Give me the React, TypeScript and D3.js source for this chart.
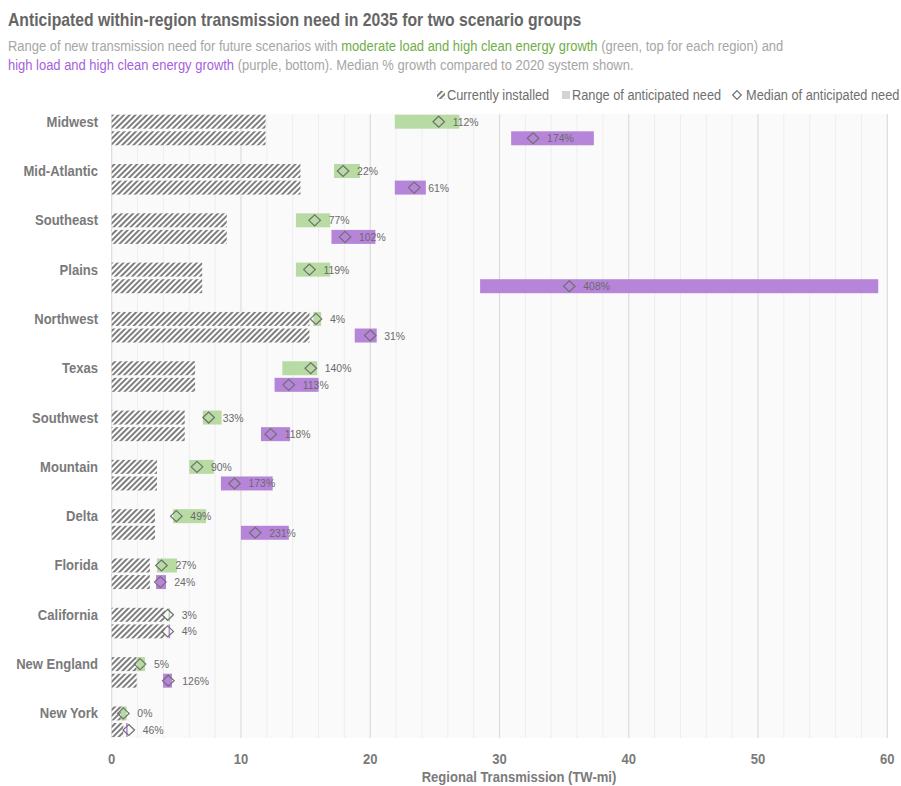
import React from "react";
import * as d3 from "d3";

const regions = ["Midwest","Mid-Atlantic","Southeast","Plains","Northwest","Texas","Southwest","Mountain","Delta","Florida","California","New England","New York"];
const installed = [11.9, 14.6, 8.9, 7.0, 15.3, 6.45, 5.65, 3.5, 3.35, 2.95, 4.1, 1.93, 0.9];
const modLow = [21.9, 17.2, 14.25, 14.25, 15.6, 13.2, 7.05, 6.0, 4.75, 3.5, 4.4, 1.93, 0.7];
const modHigh = [26.9, 19.2, 16.9, 16.9, 16.2, 15.9, 8.5, 7.9, 7.3, 5.05, 4.48, 2.58, 1.16];
const modMed = [25.3, 17.9, 15.7, 15.3, 15.8, 15.4, 7.5, 6.6, 5.0, 3.85, 4.33, 2.19, 0.9];
const modPct = ["112%","22%","77%","119%","4%","140%","33%","90%","49%","27%","3%","5%","0%"];
const highLow = [30.9, 21.9, 17.0, 28.5, 18.8, 12.6, 11.55, 8.45, 10.0, 3.43, 4.4, 3.97, 1.12];
const highHigh = [37.3, 24.3, 20.4, 59.3, 20.5, 16.0, 13.8, 12.45, 13.7, 4.2, 4.48, 4.66, 1.2];
const highMed = [32.6, 23.4, 18.05, 35.4, 20.0, 13.7, 12.3, 9.5, 11.1, 3.76, 4.33, 4.38, 1.32];
const highPct = ["174%","61%","102%","408%","31%","113%","118%","173%","231%","24%","4%","126%","46%"];
const xTicks = [0, 10, 20, 30, 40, 50, 60];
const scenarios = ["mod", "high"];

const FONT = "'Liberation Sans', Arial, sans-serif";
const SX = 0.9;
const GREEN = "#b7dba2";
const PURPLE = "#b685da";
const TXT = "#7a7a7a";

function NText(props: any) {
  const { x, y, children, ...rest } = props;
  return (
    <text transform={`translate(${x},${y}) scale(${SX},1)`} {...rest}>
      {children}
    </text>
  );
}

export default function App() {
  const W = 901, H = 786;
  const x = d3.scaleLinear().domain([0, 60]).range([111.7, 887.3]);
  const y = d3.scaleBand().domain(regions).range([114.7, 737]).paddingInner(0.38).paddingOuter(0);
  const yi = d3.scaleBand().domain(scenarios).range([0, y.bandwidth()]).paddingInner(0.157);
  const bh = yi.bandwidth();
  const minor = d3.range(0, 61, 2).filter((v) => v % 10 !== 0);
  const plotTop = 114, plotBot = 738;

  const series = [
    { key: "mod", low: modLow, high: modHigh, med: modMed, pct: modPct, color: GREEN },
    { key: "high", low: highLow, high: highHigh, med: highMed, pct: highPct, color: PURPLE },
  ];

  const diamond = (cx: number, cy: number, rx = 5.8, ry = 5.5) => {
    const p = d3.path();
    p.moveTo(cx, cy - ry);
    p.lineTo(cx + rx, cy);
    p.lineTo(cx, cy + ry);
    p.lineTo(cx - rx, cy);
    p.closePath();
    return p.toString();
  };

  return (
    <svg width={W} height={H} style={{ position: "absolute", left: 0, top: 0, background: "#fff" }} fontFamily={FONT}>
      <defs>
        <pattern id="hatch" patternUnits="userSpaceOnUse" width="4" height="4" patternTransform="rotate(45)">
          <rect width="4" height="4" fill="#ffffff" />
          <rect x="0" y="0" width="2" height="4" fill="#7f7f7f" />
        </pattern>
      </defs>
      <NText x={8} y={26} fontSize={17.5} fontWeight="bold" fill="#666666">Anticipated within-region transmission need in 2035 for two scenario groups</NText>
      <NText x={8} y={51} fontSize={14.4} fill="#a6a6a6">
        Range of new transmission need for future scenarios with <tspan fill="#70ad47">moderate load and high clean energy growth</tspan> (green, top for each region) and
      </NText>
      <NText x={8} y={70} fontSize={14.4} fill="#a6a6a6">
        <tspan fill="#a65fdc">high load and high clean energy growth</tspan> (purple, bottom). Median % growth compared to 2020 system shown.
      </NText>

      {/* legend */}
      <g fontSize={14.2} fill="#6f6f6f">
        <rect x={437} y={91} width={8} height={8} fill="url(#hatch)" />
        <NText x={447} y={100}>Currently installed</NText>
        <rect x={562} y={91} width={8} height={8} fill="#d4d4d4" />
        <NText x={572} y={100}>Range of anticipated need</NText>
        <path d={diamond(737, 95, 4.3, 4.3)} fill="none" stroke="#6f6f6f" strokeWidth={1.2} />
        <NText x={746} y={100}>Median of anticipated need</NText>
      </g>

      {/* plot background */}
      <rect x={x(0)} y={plotTop} width={x(60) - x(0)} height={plotBot - plotTop} fill="#fafafa" />
      {minor.map((v) => (
        <line key={"m" + v} x1={x(v)} x2={x(v)} y1={plotTop} y2={plotBot} stroke="#eeeeee" strokeWidth={1} />
      ))}
      {xTicks.map((v) => (
        <line key={"g" + v} x1={x(v)} x2={x(v)} y1={plotTop} y2={plotBot} stroke="#dcdcdc" strokeWidth={1.2} />
      ))}

      {/* installed hatched bars */}
      {regions.map((r, i) =>
        scenarios.map((s) => (
          <rect key={r + s + "inst"} x={x(0)} y={(y(r) as number) + (yi(s) as number)} width={x(installed[i]) - x(0)} height={bh} fill="url(#hatch)" />
        ))
      )}

      {/* ranges */}
      {series.map((se) =>
        regions.map((r, i) => {
          const x0 = x(se.low[i]);
          const w = Math.max(x(se.high[i]) - x0, 1.5);
          return <rect key={r + se.key + "rng"} x={x0} y={(y(r) as number) + (yi(se.key) as number)} width={w} height={bh} fill={se.color} />;
        })
      )}

      {/* medians and labels */}
      {series.map((se) =>
        regions.map((r, i) => {
          const cy = (y(r) as number) + (yi(se.key) as number) + bh / 2;
          const cx = x(se.med[i]);
          return (
            <g key={r + se.key + "med"}>
              <path d={diamond(cx, cy)} fill="none" stroke="#707070" strokeWidth={1.2} />
              <NText x={cx + 14} y={cy + 4} fontSize={11.6} fill="#6a6a6a">{se.pct[i]}</NText>
            </g>
          );
        })
      )}

      {/* y labels */}
      {regions.map((r) => (
        <NText key={r + "lab"} x={98} y={(y(r) as number) + (yi("mod") as number) + bh / 2 + 5} textAnchor="end" fontSize={14.5} fontWeight="bold" fill={TXT}>{r}</NText>
      ))}

      {/* x axis */}
      {xTicks.map((v) => (
        <NText key={"t" + v} x={x(v)} y={764} textAnchor="middle" fontSize={14.5} fontWeight="bold" fill={TXT}>{v}</NText>
      ))}
      <NText x={421.7} y={782} fontSize={14.5} fontWeight="bold" fill={TXT}>Regional Transmission (TW-mi)</NText>
    </svg>
  );
}
